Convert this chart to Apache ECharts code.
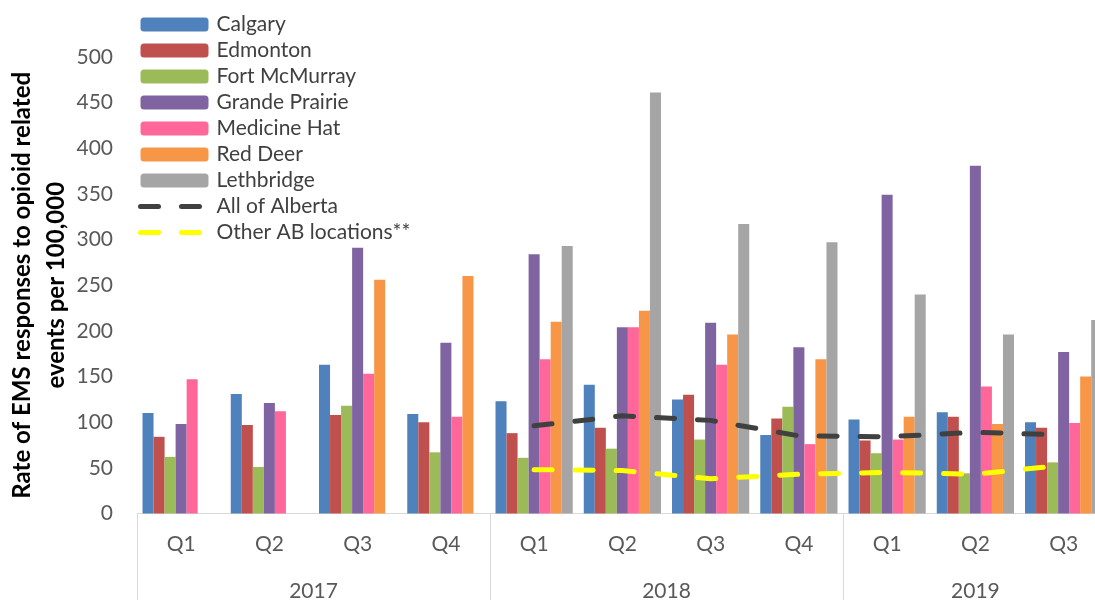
<!DOCTYPE html>
<html>
<head>
<meta charset="utf-8">
<script src="https://cdn.jsdelivr.net/npm/echarts@6/dist/echarts.min.js"></script>
<style>
html,body{margin:0;padding:0;background:#fff;}
#chart{width:1095px;height:600px;}
</style>
</head>
<body>
<div id="chart"></div>
<script>
// ---- data ----
var quarters = ['Q1','Q2','Q3','Q4','Q1','Q2','Q3','Q4','Q1','Q2','Q3'];
var years = ['2017','2018','2019'];
var quartersPerYear = [4,4,3];
var yTicks = [0,50,100,150,200,250,300,350,400,450,500];

var calgary       = [110,131,163,109,123,141,125, 86,103,111,100];
var edmonton      = [ 84, 97,108,100, 88, 94,130,104, 80,106, 94];
var fortMcMurray  = [ 62, 51,118, 67, 61, 71, 81,117, 66, 44, 56];
var grandePrairie = [ 98,121,291,187,284,204,209,182,349,381,177];
var medicineHat   = [147,112,153,106,169,204,163, 76, 81,139, 99];
var redDeer       = [null,null,256,260,210,222,196,169,106, 98,150];
var lethbridge    = [null,null,null,null,293,461,317,297,240,196,212];
var allAlberta    = [null,null,null,null, 96,107,102, 85, 84, 89, 86];
var otherAB       = [null,null,null,null, 48, 47, 38, 43, 45, 43, 53];

var seriesNames = ['Calgary','Edmonton','Fort McMurray','Grande Prairie','Medicine Hat','Red Deer','Lethbridge','All of Alberta','Other AB locations**'];
var colors = ['#4F81BD','#C0504D','#9BBB59','#8064A2','#FF6699','#F79646','#A5A5A5','#404040','#FFFF00'];

// year boundaries / centres derived from quarter counts
var bounds = [0], centres = [];
quartersPerYear.reduce(function(acc, n){ centres.push(acc + n/2); bounds.push(acc + n); return acc + n; }, 0);
var nCat = quarters.length;

var FONT = 'Lato';
var DASH = [18,23];
var chart = echarts.init(document.getElementById('chart'), null, {renderer:'canvas'});

function bar(name, data, color){
  return {name:name, type:'bar', data:data, xAxisIndex:0, yAxisIndex:0,
    itemStyle:{color:color}, barGap:'0%', barCategoryGap:'12.5%'};
}
function line(name, data, color){
  return {name:name, type:'line', data:data, xAxisIndex:0, yAxisIndex:0, symbol:'none',
    z:5, itemStyle:{color:color},
    lineStyle:{color:color, width:5, type:DASH, cap:'round'}};
}

var legendData = seriesNames.map(function(n, i){
  if (i < 7) return {name:n};
  return {name:n, itemStyle:{opacity:0}, lineStyle:{color:colors[i], width:5, type:DASH, cap:'round'}};
});

chart.setOption({
  animation:false,
  color:colors,
  legend:{
    orient:'vertical', left:133, top:9, padding:5, itemWidth:68, itemHeight:14, itemGap:5,
    data:legendData,
    textStyle:{fontFamily:FONT, fontSize:21, color:'#404040', padding:[0,0,0,3]}
  },
  grid:{left:137, top:57, height:456.5, width:970.75, containLabel:false, outerBoundsMode:'none'},
  xAxis:[
    {type:'category', data:quarters, boundaryGap:true,
     axisLine:{show:true, lineStyle:{color:'#D9D9D9', width:1}},
     axisTick:{show:false},
     axisLabel:{fontFamily:FONT, fontSize:21, color:'#595959', margin:20, interval:0}},
    {type:'value', min:0, max:nCat, position:'bottom',
     axisLine:{show:false}, splitLine:{show:false},
     axisTick:{show:true, customValues:bounds, length:87, inside:false, lineStyle:{color:'#D9D9D9', width:1}},
     axisLabel:{show:true, customValues:centres, margin:67, fontFamily:FONT, fontSize:21, color:'#595959',
       formatter:function(v){ var i = centres.indexOf(v); return i>=0 ? years[i] : ''; }}}
  ],
  yAxis:{type:'value', min:yTicks[0], max:yTicks[yTicks.length-1], interval:yTicks[1]-yTicks[0],
    axisLine:{show:false}, axisTick:{show:false}, splitLine:{show:false},
    axisLabel:{fontFamily:FONT, fontSize:21, color:'#595959', margin:24},
    name:'Rate of EMS responses to opioid related\nevents per 100,000',
    nameLocation:'middle', nameGap:64, nameRotate:90, nameMoveOverlap:false,
    nameTextStyle:{fontFamily:FONT, fontWeight:'bold', fontSize:24, color:'#000', lineHeight:34, align:'center'}
  },
  series:[
    bar(seriesNames[0], calgary, colors[0]),
    bar(seriesNames[1], edmonton, colors[1]),
    bar(seriesNames[2], fortMcMurray, colors[2]),
    bar(seriesNames[3], grandePrairie, colors[3]),
    bar(seriesNames[4], medicineHat, colors[4]),
    bar(seriesNames[5], redDeer, colors[5]),
    bar(seriesNames[6], lethbridge, colors[6]),
    line(seriesNames[7], allAlberta, colors[7]),
    line(seriesNames[8], otherAB, colors[8])
  ]
});
</script>
</body>
</html>
